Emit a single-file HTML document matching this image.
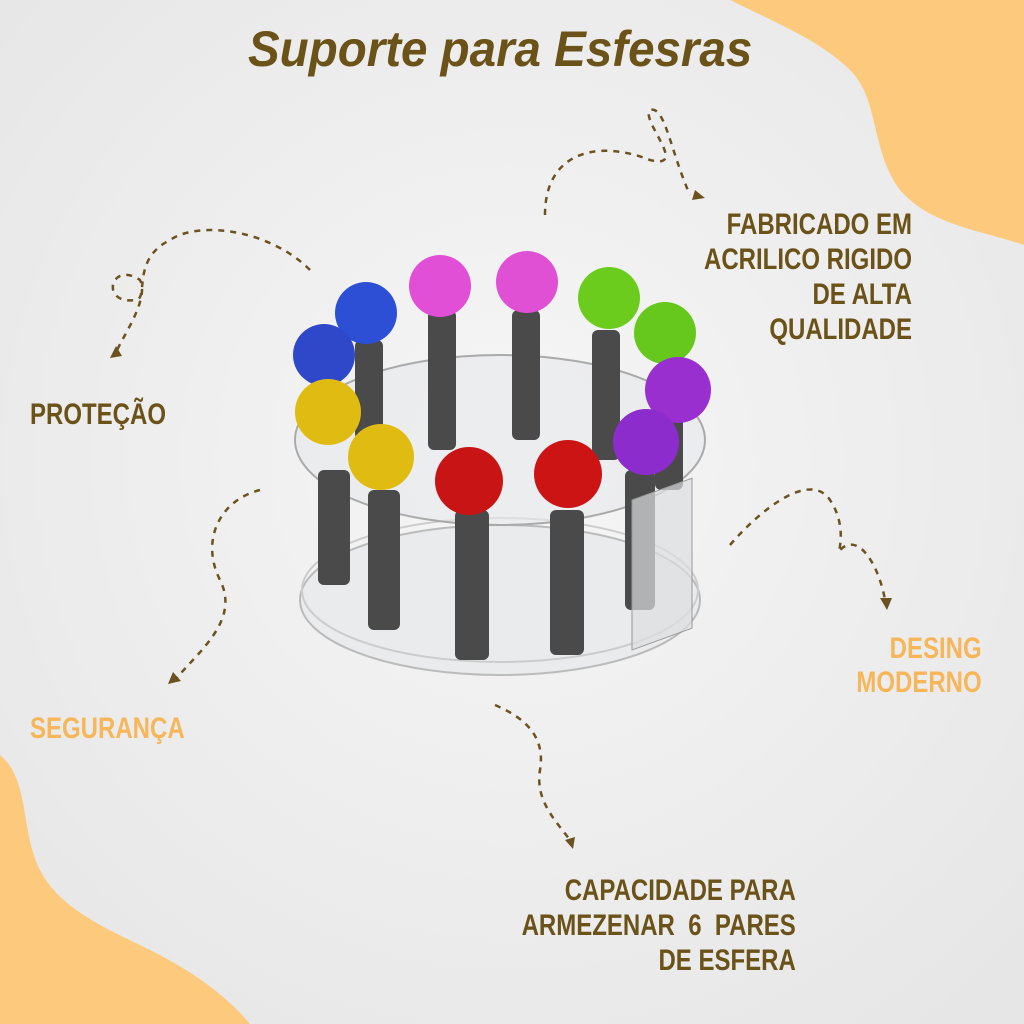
<!DOCTYPE html>
<html><head><meta charset="utf-8"><style>
html,body{margin:0;padding:0}
body{width:1024px;height:1024px;overflow:hidden;background:#eeeeee;position:relative;font-family:"Liberation Sans",sans-serif}
.t{position:absolute;font-weight:bold;font-family:"Liberation Sans",sans-serif;white-space:nowrap;transform:scaleX(0.8)}
.l{transform-origin:left top}
.r{transform-origin:right top;text-align:right}
</style></head><body>
<svg width="1024" height="1024" style="position:absolute;left:0;top:0">
<defs>
<radialGradient id="bg" cx="0.5" cy="0.45" r="0.7"><stop offset="0" stop-color="#f6f6f6"/><stop offset="1" stop-color="#e6e6e6"/></radialGradient>
</defs>
<rect width="1024" height="1024" fill="url(#bg)"/>
<path d="M730,0 C770,20 820,40 850,70 C880,100 870,150 900,190 C930,225 980,230 1024,245 L1024,0 Z" fill="#fdc97c"/>
<path d="M0,755 C30,780 20,830 40,870 C60,910 110,930 150,950 C200,975 230,1000 250,1024 L0,1024 Z" fill="#fdc97c"/>
<g fill="none" stroke="#6b5220" stroke-width="2.5" stroke-dasharray="6 6">
<path d="M545,215 C545,150 600,140 650,160 C690,170 640,120 650,110 C665,105 670,150 690,195"/>
<path d="M310,270 C270,230 200,220 170,240 C130,260 150,300 135,300 C100,305 110,260 140,280 C150,300 120,340 115,355"/>
<path d="M260,490 C220,500 200,540 220,580 C240,620 200,650 175,680"/>
<path d="M730,545 C760,510 810,470 830,500 C850,530 835,560 840,550 C860,530 880,570 885,600"/>
<path d="M495,705 C530,720 545,740 540,770 C535,800 555,820 570,840"/>
</g>
<g fill="#6b5220">
<path d="M695,190 l10,8 l-13,2z"/><path d="M110,358 l6,-12 l6,10z"/><path d="M168,684 l5,-12 l8,9z"/>
<path d="M880,598 l12,0 l-5,12z"/><path d="M565,840 l10,-3 l-2,12z"/>
</g>
<ellipse cx="500" cy="600" rx="200" ry="75" fill="#e9ebec" stroke="#bbb" stroke-width="2"/>
<ellipse cx="500" cy="590" rx="198" ry="72" fill="none" stroke="#ccc" stroke-width="2"/>
<ellipse cx="500" cy="440" rx="205" ry="85" fill="rgba(230,232,235,0.6)" stroke="#aaa" stroke-width="2"/>
<g fill="#4a4a4a">
<rect x="318" y="470" width="32" height="115" rx="6"/><rect x="368" y="490" width="32" height="140" rx="6"/>
<rect x="455" y="510" width="34" height="150" rx="6"/><rect x="550" y="510" width="34" height="145" rx="6"/>
<rect x="625" y="470" width="30" height="140" rx="6"/><rect x="428" y="310" width="28" height="140" rx="6"/>
<rect x="512" y="310" width="28" height="130" rx="6"/><rect x="592" y="330" width="28" height="130" rx="6"/>
<rect x="355" y="340" width="28" height="100" rx="6"/><rect x="655" y="380" width="28" height="110" rx="6"/>
</g>
<g>
<circle cx="366" cy="313" r="31" fill="#2d4fd6"/><circle cx="324" cy="355" r="31" fill="#2f47c9"/>
<circle cx="440" cy="286" r="31" fill="#e04fd5"/><circle cx="527" cy="282" r="31" fill="#e050d5"/>
<circle cx="609" cy="298" r="31" fill="#6ccc1e"/><circle cx="665" cy="333" r="31" fill="#66c81c"/>
<circle cx="678" cy="390" r="33" fill="#9a2fd0"/><circle cx="646" cy="442" r="33" fill="#8d2ccc"/>
<circle cx="328" cy="412" r="33" fill="#e0bb12"/><circle cx="381" cy="457" r="33" fill="#e0bb12"/>
<circle cx="469" cy="481" r="34" fill="#c81414"/><circle cx="568" cy="474" r="34" fill="#cc1414"/>
</g>
<rect x="632" y="500" width="60" height="150" fill="rgba(220,222,225,0.7)" stroke="#999" transform="skewY(-20) translate(0,230)"/>
</svg>
<div class="t l" style="left:248px;top:20px;font-size:50px;color:#6b5218;font-style:italic;transform:scaleX(0.95)">Suporte para Esfesras</div>
<div class="t r" style="right:112px;top:207px;font-size:30px;line-height:35px;color:#6b5218">FABRICADO EM<br>ACRILICO RIGIDO<br>DE ALTA<br>QUALIDADE</div>
<div class="t l" style="left:30px;top:398px;font-size:30px;color:#6b5218">PROTEÇÃO</div>
<div class="t l" style="left:30px;top:712px;font-size:30px;color:#f7b65a">SEGURANÇA</div>
<div class="t r" style="right:42px;top:632px;font-size:30px;line-height:34px;color:#f7b65a">DESING<br>MODERNO</div>
<div class="t r" style="right:228px;top:873px;font-size:30px;line-height:35px;color:#6b5218">CAPACIDADE PARA<br>ARMEZENAR &nbsp;6 &nbsp;PARES<br>DE ESFERA</div>
</body></html>
